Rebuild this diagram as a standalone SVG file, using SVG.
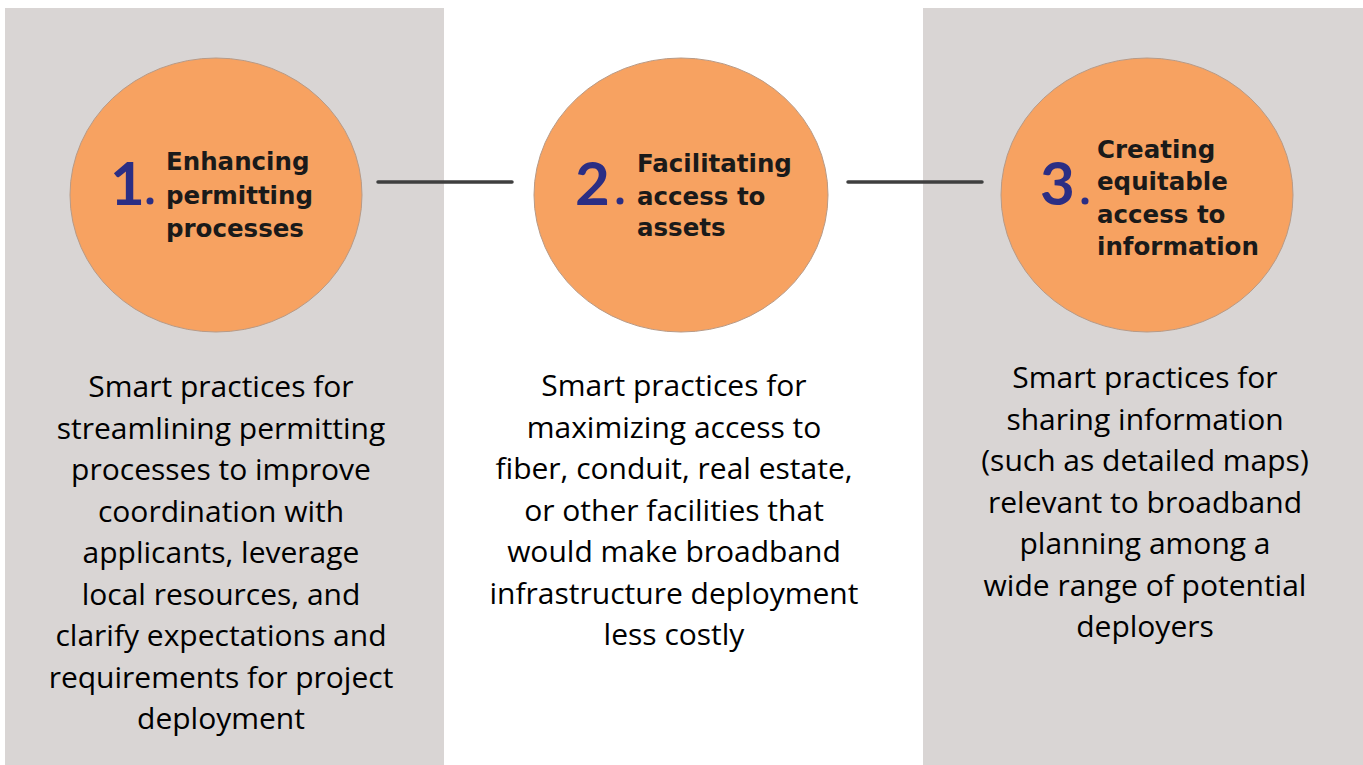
<svg xmlns="http://www.w3.org/2000/svg" width="1363" height="765" viewBox="0 0 1363 765">
<style>
.panel{fill:#D9D5D4}
.circ{fill:#F7A261;stroke:#B89A86;stroke-width:1}
.num{font-family:"Lato","DejaVu Sans",sans-serif;font-weight:700;font-size:60px;fill:#2B2E84}
.dot{fill:#2B2E84}
.head{font-family:"DejaVu Sans",sans-serif;font-weight:700;font-size:24.5px;fill:#1A1A1A}
.body{font-family:"Open Sans","Liberation Sans",sans-serif;font-size:30px;fill:#000;text-anchor:middle}
.conn{stroke:#3F3F3F;stroke-width:3.5;stroke-linecap:round}
</style>
<rect width="1363" height="765" fill="#FFFFFF"/>
<rect class="panel" x="5" y="8" width="439" height="757"/>
<rect class="panel" x="923" y="8" width="440" height="757"/>
<g id="connectors">
<line class="conn" x1="378" y1="182" x2="512" y2="182"/>
<line class="conn" x1="848" y1="182" x2="982" y2="182"/>
</g>
<g id="node1">
<ellipse class="circ" cx="216" cy="195" rx="146" ry="137"/>
<text class="num" x="110" y="205">1</text>
<circle class="dot" cx="150" cy="201" r="3.5"/>
<text class="head" x="166" y="170">Enhancing</text>
<text class="head" x="166" y="204">permitting</text>
<text class="head" x="166" y="237">processes</text>
<text class="body"><tspan x="221" y="397">Smart practices for</tspan><tspan x="221" y="438.5">streamlining permitting</tspan><tspan x="221" y="480">processes to improve</tspan><tspan x="221" y="521.5">coordination with</tspan><tspan x="221" y="563">applicants, leverage</tspan><tspan x="221" y="604.5">local resources, and</tspan><tspan x="221" y="646">clarify expectations and</tspan><tspan x="221" y="687.5">requirements for project</tspan><tspan x="221" y="729">deployment</tspan></text>
</g>
<g id="node2">
<ellipse class="circ" cx="681" cy="195" rx="147" ry="137"/>
<text class="num" x="575" y="205">2</text>
<circle class="dot" cx="620" cy="201" r="3.5"/>
<text class="head" x="637" y="172">Facilitating</text>
<text class="head" x="637" y="205">access to</text>
<text class="head" x="637" y="236">assets</text>
<text class="body"><tspan x="674" y="396">Smart practices for</tspan><tspan x="674" y="437.5">maximizing access to</tspan><tspan x="674" y="479">fiber, conduit, real estate,</tspan><tspan x="674" y="520.5">or other facilities that</tspan><tspan x="674" y="562">would make broadband</tspan><tspan x="674" y="603.5">infrastructure deployment</tspan><tspan x="674" y="645">less costly</tspan></text>
</g>
<g id="node3">
<ellipse class="circ" cx="1147" cy="195" rx="146" ry="137"/>
<text class="num" x="1040" y="205">3</text>
<circle class="dot" cx="1085" cy="201" r="3.5"/>
<text class="head" x="1097" y="158">Creating</text>
<text class="head" x="1097" y="190">equitable</text>
<text class="head" x="1097" y="223">access to</text>
<text class="head" x="1097" y="255">information</text>
<text class="body"><tspan x="1145" y="388">Smart practices for</tspan><tspan x="1145" y="429.5">sharing information</tspan><tspan x="1145" y="471">(such as detailed maps)</tspan><tspan x="1145" y="512.5">relevant to broadband</tspan><tspan x="1145" y="554">planning among a</tspan><tspan x="1145" y="595.5">wide range of potential</tspan><tspan x="1145" y="637">deployers</tspan></text>
</g>
</svg>
